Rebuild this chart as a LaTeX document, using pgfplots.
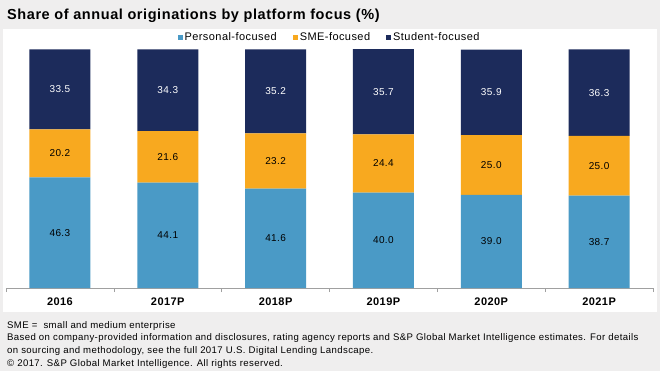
\documentclass[border=0pt]{standalone}
\usepackage{pgfplots}
\usepackage{pgfplotstable}
\pgfplotsset{compat=1.18}
\usepackage{fontspec}
\setmainfont{Liberation Sans}[LetterSpace=4]
\definecolor{bgc}{HTML}{EFEEEE}
\definecolor{cpers}{HTML}{4A9AC6}
\definecolor{csme}{HTML}{F8A91F}
\definecolor{cstud}{HTML}{1C2B5B}
\definecolor{axc}{HTML}{A0A0A0}
\pgfplotstableread{
x personal sme student
0 46.3 20.2 33.5
1 44.1 21.6 34.3
2 41.6 23.2 35.2
3 40.0 24.4 35.7
4 39.0 25.0 35.9
5 38.7 25.0 36.3
}\shares
\begin{document}
\begin{tikzpicture}[x=1pt,y=1pt]
\fill[bgc] (0,0) rectangle (660,-371);
\fill[white] (3,-29) rectangle (657,-312);
\node[anchor=base west, font=\bfseries\fontsize{14.5}{17}\selectfont, inner sep=0pt] at (7,-20) {Share of annual originations by platform focus (\%)};
\begin{axis}[
  at={(6pt,-288pt)}, anchor=south west,
  scale only axis, width=647pt, height=238.7pt,
  xmin=-0.5, xmax=5.5, ymin=0, ymax=100,
  ybar stacked, bar width=61pt,
  axis x line*=bottom, axis y line=none,
  x axis line style={draw=axc, line width=0.6pt},
  xtick={0,...,5},
  xticklabels={2016,2017P,2018P,2019P,2020P,2021P},
  major x tick style={draw=none},
  minor xtick={-0.5,0.5,...,5.5},
  minor tick length=4pt,
  minor x tick style={draw=axc, line width=0.6pt},
  tick align=outside,
  xticklabel style={font=\bfseries\fontsize{11}{13}\selectfont, yshift=-2pt},
  ytick=\empty,
  clip=false,
  /pgf/number format/assume math mode=true,
  point meta=explicit,
  nodes near coords={\pgfmathprintnumber[fixed, fixed zerofill, precision=1]{\pgfplotspointmeta}},
  every node near coord/.append style={anchor=center, font=\fontsize{10}{12}\selectfont},
  legend style={at={(0.5,1.0515)}, anchor=center, legend columns=3, draw=none, fill=none,
    font=\fontsize{11}{13}\selectfont, inner sep=0pt,
    /tikz/every even column/.append style={column sep=14pt}},
  legend cell align=left,
]
\addplot[fill=cpers, draw=none,
  legend image code/.code={\fill[cpers] (0pt,-2.5pt) rectangle (5pt,2.5pt);}]
  table[x=x, y=personal, meta=personal] {\shares};
\addlegendentry{Personal-focused}
\addplot[fill=csme, draw=none,
  legend image code/.code={\fill[csme] (0pt,-2.5pt) rectangle (5pt,2.5pt);}]
  table[x=x, y=sme, meta=sme] {\shares};
\addlegendentry{SME-focused}
\addplot[fill=cstud, draw=none,
  every node near coord/.append style={text=white},
  legend image code/.code={\fill[cstud] (0pt,-2.5pt) rectangle (5pt,2.5pt);}]
  table[x=x, y=student, meta=student] {\shares};
\addlegendentry{Student-focused}
\end{axis}
\begin{scope}[every node/.style={anchor=base west, inner sep=0pt, font=\fontsize{9.6}{11}\selectfont}]
\node at (7,-328) {SME = \ small and medium enterprise};
\node at (7,-340.7) {Based on company-provided information and disclosures, rating agency reports and S\&P Global Market Intelligence estimates. For details};
\node at (7,-353.4) {on sourcing and methodology, see the full 2017 U.S. Digital Lending Landscape.};
\node at (7,-366) {\textcopyright{} 2017. S\&P Global Market Intelligence. All rights reserved.};
\end{scope}
\end{tikzpicture}
\end{document}
